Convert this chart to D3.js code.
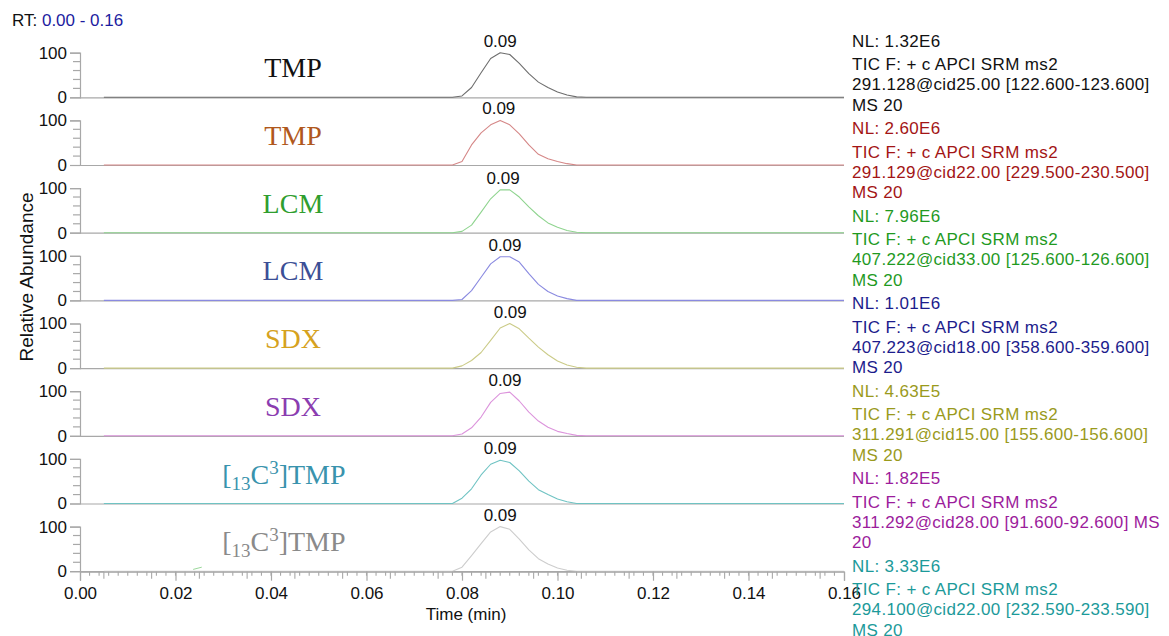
<!DOCTYPE html>
<html>
<head>
<meta charset="utf-8">
<script src="https://cdn.jsdelivr.net/npm/d3@7"></script>
<style>
  html, body { margin: 0; padding: 0; background: #fff; }
  svg { display: block; }
</style>
</head>
<body>
<svg id="chart" width="1169" height="636" font-family="Arial, 'Liberation Sans', sans-serif"></svg>
<script>
// Retention-time sampling points (min) shared by every trace
const times = [0.005, 0.076, 0.078, 0.080, 0.082, 0.084, 0.086, 0.088, 0.090,
               0.092, 0.094, 0.096, 0.098, 0.100, 0.102, 0.104, 0.106, 0.160];

// Relative abundance (%) of each SRM trace at the sampling points above
const tmpA  = [0, 0, 0, 3, 22, 55, 87, 100, 96, 76, 53, 34, 22, 12, 5, 1, 0, 0];
const tmpB  = [0, 0, 0, 8, 45, 72, 90, 100, 90, 70, 45, 24, 14, 8, 3, 0, 0, 0];
const lcmA  = [0, 0, 0, 3, 17, 46, 76, 96, 96, 80, 58, 38, 22, 12, 5, 1, 0, 0];
const lcmB  = [0, 0, 0, 2, 22, 52, 82, 98, 98, 86, 60, 36, 20, 10, 4, 0, 0, 0];
const sdxA  = [0, 0, 0, 5, 17, 35, 62, 90, 100, 88, 67, 47, 30, 16, 7, 2, 0, 0];
const sdxB  = [0, 0, 0, 4, 18, 42, 75, 95, 98, 78, 53, 33, 19, 10, 5, 1, 0, 0];
const istdA = [0, 0, 0, 12, 33, 64, 88, 97, 92, 73, 50, 31, 20, 10, 4, 0, 0, 0];
const istdB = [0, 0, 0, 9, 35, 62, 88, 100, 94, 72, 48, 28, 16, 7, 2, 0, 0, 0];
const traces = [tmpA, tmpB, lcmA, lcmB, sdxA, sdxB, istdA, istdB];

// Apex retention times (min) annotated above each peak
const apexTimes = [0.0880, 0.0877, 0.0886, 0.0890, 0.0901, 0.0890, 0.0880, 0.0880];

// Small spike on the last trace near 0.024 min
const spikeTimes = [0.0237, 0.0255];
const spikeValues = [4, 9];

// Compound names drawn inside each panel
const compounds = ["TMP", "TMP", "LCM", "LCM", "SDX", "SDX", "TMP", "TMP"];
const labelledIsotope = [false, false, false, false, false, false, true, true];

// Scan-filter annotations on the right
const normLevels = ["1.32E6", "2.60E6", "7.96E6", "1.01E6", "4.63E5", "1.82E5", "3.33E6"];
const filterLine = "TIC F: + c APCI SRM ms2";
const transitions = [
  "291.128@cid25.00 [122.600-123.600]",
  "291.129@cid22.00 [229.500-230.500]",
  "407.222@cid33.00 [125.600-126.600]",
  "407.223@cid18.00 [358.600-359.600]",
  "311.291@cid15.00 [155.600-156.600]",
  "311.292@cid28.00 [91.600-92.600]  MS",
  "294.100@cid22.00 [232.590-233.590]"
];
const scanTail = ["MS 20", "MS 20", "MS 20", "MS 20", "MS 20", "20", "MS 20"];

// Axis ticks
const timeTicks = [0, 0.02, 0.04, 0.06, 0.08, 0.10, 0.12, 0.14, 0.16];
const abundanceTicks = [0, 100];
const abundanceMinor = [20, 40, 60, 80];

// Colours
const traceColors = ["#6e6e6e", "#d58787", "#8fd48f", "#8a8ae0", "#cbcb88", "#dc94dc", "#6fc3c3", "#cdcdcd"];
const nameColors  = ["#111111", "#b0581c", "#2f9e2f", "#3c4f96", "#d6a21e", "#8b3db0", "#3993ad", "#8a8a8a"];
const noteColors  = ["#111111", "#a31515", "#1f9a1f", "#1c1c8c", "#9a9a1c", "#9c1c9c", "#1c9a9a"];
const axisColor = "#a8a8a8";

const svg = d3.select("#chart");

const x = d3.scaleLinear().domain([0, 0.16]).range([80, 844]);
const panelZero0 = 97.3, panelStep = 67.7, panelHeight = 44.6;

// Header: retention-time range
const rtText = svg.append("text").attr("x", 12).attr("y", 26).attr("font-size", 17);
rtText.append("tspan").attr("fill", "#111").text("RT: ");
rtText.append("tspan").attr("fill", "#1c1ca0")
  .text(d3.format(".2f")(x.domain()[0]) + " - " + d3.format(".2f")(x.domain()[1]));

traces.forEach((vals, i) => {
  const zero = panelZero0 + panelStep * i;
  const y = d3.scaleLinear().domain([0, 100]).range([zero, zero - panelHeight]);
  const g = svg.append("g");

  // baseline
  g.append("line").attr("x1", x(0)).attr("x2", x(0.16))
    .attr("y1", y(0) + 0.5).attr("y2", y(0) + 0.5)
    .attr("stroke", axisColor).attr("stroke-width", 1.2);

  // y axis: major ticks with labels
  const yAxis = d3.axisLeft(y).tickValues(abundanceTicks).tickSize(10).tickPadding(3)
    .tickFormat(d3.format("d"));
  const ya = g.append("g").attr("transform", `translate(${x(0)},0)`).call(yAxis);
  ya.attr("font-family", null);
  ya.select(".domain").attr("stroke", axisColor).attr("stroke-width", 1.2);
  ya.selectAll(".tick line").attr("stroke", axisColor).attr("stroke-width", 1.2);
  ya.selectAll(".tick text").attr("fill", "#111").attr("font-size", 17);
  // minor ticks
  g.selectAll(".minor").data(abundanceMinor).enter().append("line")
    .attr("x1", x(0) - 7).attr("x2", x(0))
    .attr("y1", d => y(d)).attr("y2", d => y(d))
    .attr("stroke", axisColor).attr("stroke-width", 1.2);

  // trace
  const line = d3.line().x((d, k) => x(times[k])).y(d => y(d));
  g.append("path").datum(vals).attr("d", line)
    .attr("fill", "none").attr("stroke", traceColors[i]).attr("stroke-width", 1.1)
    .attr("stroke-linejoin", "round");

  // apex label
  const peakMax = d3.max(vals);
  g.append("text").attr("x", x(apexTimes[i])).attr("y", y(peakMax) - 6)
    .attr("text-anchor", "middle").attr("font-size", 17).attr("fill", "#111")
    .text(d3.format(".2f")(apexTimes[i]));

  // compound name
  const nameY = zero - 20;
  const name = g.append("text").attr("y", nameY).attr("text-anchor", "middle")
    .attr("font-family", "'Liberation Serif', 'Times New Roman', serif")
    .attr("font-size", 28).attr("fill", nameColors[i]);
  if (labelledIsotope[i]) {
    name.attr("x", x(0.0427));
    name.append("tspan").text("[");
    name.append("tspan").attr("font-size", 19).attr("dy", 6).text("13");
    name.append("tspan").attr("dy", -6).text("C");
    name.append("tspan").attr("font-size", 19).attr("dy", -10).text("3");
    name.append("tspan").attr("dy", 10).text("]" + compounds[i]);
  } else {
    name.attr("x", x(0.0446)).text(compounds[i]);
  }

  if (i === traces.length - 1) {
    const spike = d3.line().x((d, k) => x(spikeTimes[k])).y(d => y(d));
    g.append("path").datum(spikeValues).attr("d", spike)
      .attr("fill", "none").attr("stroke", "#9bd89b").attr("stroke-width", 1);
  }
});

// Shared time axis under the last panel
const axisY = panelZero0 + panelStep * (traces.length - 1) + 0.5;
const xAxis = d3.axisBottom(x).tickValues(timeTicks).tickSize(9).tickPadding(6)
  .tickFormat(d3.format(".2f"));
const xa = svg.append("g").attr("transform", `translate(0,${axisY})`).call(xAxis);
xa.attr("font-family", null);
xa.select(".domain").attr("stroke", axisColor).attr("stroke-width", 1.2);
xa.selectAll(".tick line").attr("stroke", axisColor).attr("stroke-width", 1.2);
xa.selectAll(".tick text").attr("fill", "#111").attr("font-size", 17);
// minor ticks every 0.002 min, medium ticks halfway between labels
const minorTicks = d3.range(1, 80).map(k => k * 0.002);
const mediumTicks = d3.range(0, 16).map(k => 0.005 + k * 0.01);
svg.append("g").selectAll("line").data(minorTicks).enter().append("line")
  .attr("x1", d => x(d)).attr("x2", d => x(d))
  .attr("y1", axisY).attr("y2", axisY + 4)
  .attr("stroke", axisColor).attr("stroke-width", 1.1);
svg.append("g").selectAll("line").data(mediumTicks).enter().append("line")
  .attr("x1", d => x(d)).attr("x2", d => x(d))
  .attr("y1", axisY).attr("y2", axisY + 7)
  .attr("stroke", axisColor).attr("stroke-width", 1.1);

// Axis titles
svg.append("text").attr("x", 466).attr("y", 620).attr("text-anchor", "middle")
  .attr("font-size", 17).attr("fill", "#111").text("Time (min)");
svg.append("text").attr("transform", "translate(33,277) rotate(-90)")
  .attr("text-anchor", "middle").attr("font-size", 19).attr("fill", "#111")
  .text("Relative Abundance");

// Scan-filter annotation blocks
const lineOffsets = [0, 23.3, 43.3, 64];
normLevels.forEach((nl, i) => {
  const top = 46.7 + 87.5 * i;
  const lines = ["NL: " + nl, filterLine, transitions[i], scanTail[i]];
  const t = svg.append("g").attr("fill", noteColors[i]).attr("font-size", 17)
    .attr("letter-spacing", 0.35);
  lines.forEach((s, k) => {
    t.append("text").attr("x", 852).attr("y", top + lineOffsets[k]).text(s);
  });
});
</script>
</body>
</html>
